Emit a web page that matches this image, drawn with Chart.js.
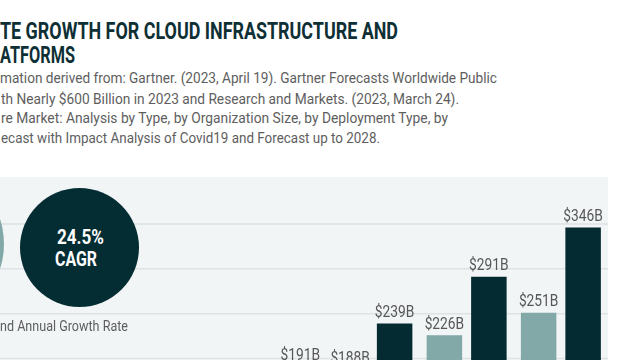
<!DOCTYPE html>
<html>
<head>
<meta charset="utf-8">
<script src="https://cdn.jsdelivr.net/npm/chart.js@4.4.0/dist/chart.umd.min.js"></script>
<style>
  html, body { margin: 0; padding: 0; }
  body { width: 640px; height: 360px; overflow: hidden; position: relative; background: #fff; font-family: Roboto, "Liberation Sans", sans-serif; }
  .t { position: absolute; white-space: nowrap; display: inline-block; transform-origin: 0 0; }
  .title { font-size: 24px; line-height: 24px; font-weight: 700; color: #0e3035; }
  .sub { font-size: 15px; line-height: 15px; color: #5e5e5e; }
  #chart { position: absolute; left: 0; top: 177px; background: #f1f5f6; }
  .circle { position: absolute; border-radius: 50%; }
  .ctext { font-size: 20px; line-height: 20px; font-weight: 700; color: #fff; }
</style>
</head>
<body>
<div class="t title" style="left:0;top:19.3px" data-w="398">TE GROWTH FOR CLOUD INFRASTRUCTURE AND</div>
<div class="t title" style="left:0;top:43.1px" data-w="75">ATFORMS</div>
<div class="t sub" style="left:0;top:71.4px" data-w="497">mation derived from: Gartner. (2023, April 19). Gartner Forecasts Worldwide Public</div>
<div class="t sub" style="left:1px;top:91.7px" data-w="458">th Nearly $600 Billion in 2023 and Research and Markets. (2023, March 24).</div>
<div class="t sub" style="left:1px;top:111.4px" data-w="447">re Market: Analysis by Type, by Organization Size, by Deployment Type, by</div>
<div class="t sub" style="left:1px;top:130.9px" data-w="379">ecast with Impact Analysis of Covid19 and Forecast up to 2028.</div>

<canvas id="chart" width="608" height="362"></canvas>

<div class="circle" style="left:-156px;top:164px;width:160px;height:160px;background:#82a9a8"></div>
<div class="circle" style="left:20px;top:187.5px;width:119px;height:119px;background:#042d33"></div>
<div class="t ctext" style="left:56.7px;top:226.5px" data-w="47">24.5%</div>
<div class="t ctext" style="left:55px;top:249.2px" data-w="42">CAGR</div>
<div class="t sub" style="left:0;top:319.1px" data-w="128">nd Annual Growth Rate</div>

<script>
// values (billions of USD); first light bar sits below the crop
const categories = ["2022", "2023", "2024", "2025"];
const lightValues = [157, 188, 226, 251];
const darkValues = [191, 239, 291, 346];
const yMin = 0;
const yMax = 400;
const yStep = 50;

// stretch each text line to the width it has in the picture
document.querySelectorAll(".t[data-w]").forEach(el => {
  const nat = el.getBoundingClientRect().width;
  el.style.transform = `scaleX(${(+el.dataset.w) / nat})`;
});

// grid lines run across the whole panel, also behind the circles
const fullGrid = {
  id: "fullGrid",
  beforeDatasetsDraw(chart) {
    const { ctx, scales: { y } } = chart;
    ctx.save();
    ctx.strokeStyle = "#dde3e5";
    ctx.lineWidth = 1.5;
    y.ticks.forEach(t => {
      if (t.value >= yMax || t.value <= yMin) return;
      const py = y.getPixelForValue(t.value);
      ctx.beginPath();
      ctx.moveTo(0, py);
      ctx.lineTo(chart.width, py);
      ctx.stroke();
    });
    ctx.restore();
  }
};

// "$xxxB" above each bar
const valueLabels = {
  id: "valueLabels",
  afterDatasetsDraw(chart) {
    const { ctx } = chart;
    ctx.save();
    ctx.fillStyle = "#575757";
    ctx.font = "16px Roboto, 'Liberation Sans', sans-serif";
    ctx.textAlign = "center";
    ctx.textBaseline = "alphabetic";
    chart.data.datasets.forEach((ds, i) => {
      chart.getDatasetMeta(i).data.forEach((bar, j) => {
        const v = ds.data[j];
        if (v == null) return;
        ctx.save();
        ctx.translate(bar.x, bar.y - 6.5);
        ctx.scale(0.86, 1);
        ctx.fillText("$" + v + "B", 0, 0);
        ctx.restore();
      });
    });
    ctx.restore();
  }
};

new Chart(document.getElementById("chart"), {
  type: "bar",
  data: {
    labels: categories,
    datasets: [
      { label: "Platforms", data: lightValues, backgroundColor: "#82a9a8" },
      { label: "Infrastructure", data: darkValues, backgroundColor: "#042b31" }
    ]
  },
  options: {
    responsive: false,
    animation: false,
    layout: { padding: { left: 231, right: 0, top: 2, bottom: 1 } },
    datasets: { bar: { categoryPercentage: 0.944, barPercentage: 0.798 } },
    plugins: { legend: { display: false }, tooltip: { enabled: false } },
    scales: {
      x: { display: false },
      y: { display: false, min: yMin, max: yMax, ticks: { stepSize: yStep } }
    }
  },
  plugins: [fullGrid, valueLabels]
});
</script>
</body>
</html>
